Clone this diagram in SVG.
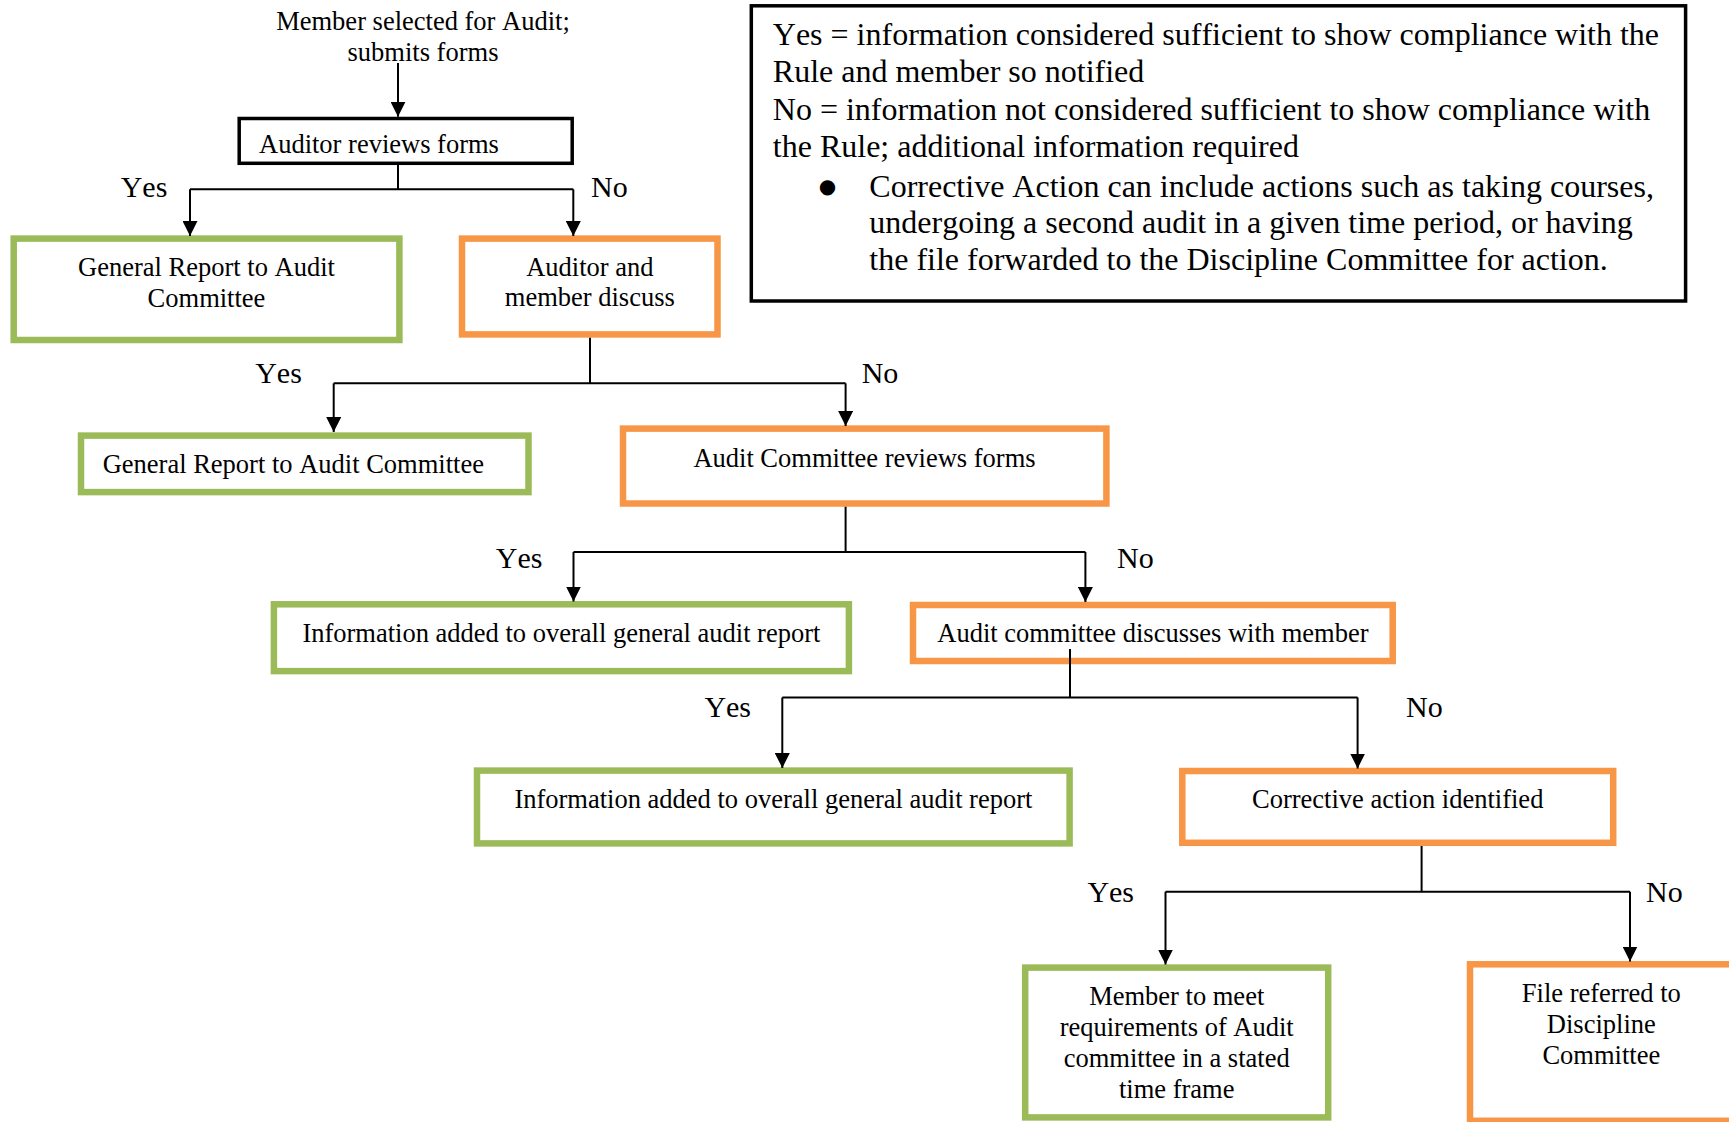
<svg xmlns="http://www.w3.org/2000/svg" width="1729" height="1122" viewBox="0 0 1729 1122">
<style>
text{font-family:"Liberation Serif","Times New Roman",serif;fill:#000;font-kerning:none}
.t{font-size:26.5px}
.c{text-anchor:middle}
.lbl{font-size:30px}
.lg{font-size:32px}
.bul{font-family:"DejaVu Sans",sans-serif;font-size:20px;text-anchor:middle}
.box{fill:#fff;stroke:#000;stroke-width:3.5}
.g{fill:#fff;stroke:#9BBB59;stroke-width:6.5}
.o{fill:#fff;stroke:#F79646;stroke-width:6.5}
.ln{fill:none;stroke:#000;stroke-width:2}
.ar{fill:none;stroke:#000;stroke-width:2;marker-end:url(#ah)}
</style>
<defs>
<marker id="ah" markerUnits="userSpaceOnUse" markerWidth="15" markerHeight="15" refX="15" refY="7.5" orient="auto">
<path d="M0,0 L15,7.5 L0,15 z" fill="#000"/>
</marker>
</defs>
<rect width="1729" height="1122" fill="#fff"/>

<g id="legend">
<rect class="box" x="751.3" y="5.8" width="934.3" height="295.2"/>
<text class="lg" x="772.8" y="45">Yes = information considered sufficient to show compliance with the</text>
<text class="lg" x="772.8" y="81.7">Rule and member so notified</text>
<text class="lg" x="772.8" y="120">No = information not considered sufficient to show compliance with</text>
<text class="lg" x="772.8" y="156.7">the Rule; additional information required</text>
<text class="bul" x="827.5" y="192.5">●</text>
<text class="lg" x="869.3" y="196.7">Corrective Action can include actions such as taking courses,</text>
<text class="lg" x="869.3" y="233.3">undergoing a second audit in a given time period, or having</text>
<text class="lg" x="869.3" y="270">the file forwarded to the Discipline Committee for action.</text>
</g>

<g id="start">
<text class="t c" x="423" y="30">Member selected for Audit;</text>
<text class="t c" x="423" y="61">submits forms</text>
</g>

<g id="auditor-reviews">
<rect class="box" x="239.2" y="118.5" width="333" height="44.8"/>
<text class="t" x="259" y="152.7">Auditor reviews forms</text>
</g>

<g id="general-report-1">
<rect class="g" x="13.7" y="238.6" width="385.7" height="101.4"/>
<text class="t c" x="206.5" y="276">General Report to Audit</text>
<text class="t c" x="206.5" y="307">Committee</text>
</g>

<g id="auditor-member-discuss">
<rect class="o" x="462" y="238.6" width="255.5" height="95.8"/>
<text class="t c" x="589.8" y="276">Auditor and</text>
<text class="t c" x="589.8" y="306">member discuss</text>
</g>

<g id="general-report-2">
<rect class="g" x="81" y="435.6" width="447.5" height="56.5"/>
<text class="t" x="102.7" y="473.3">General Report to Audit Committee</text>
</g>

<g id="committee-reviews">
<rect class="o" x="623" y="428.6" width="483.4" height="74.9"/>
<text class="t c" x="864.5" y="466.7">Audit Committee reviews forms</text>
</g>

<g id="info-added-1">
<rect class="g" x="273.9" y="604.3" width="575" height="66.8"/>
<text class="t c" x="561.4" y="641.7">Information added to overall general audit report</text>
</g>

<g id="committee-discusses">
<rect class="o" x="913" y="605" width="479.7" height="56"/>
<text class="t c" x="1152.9" y="641.7">Audit committee discusses with member</text>
</g>

<g id="info-added-2">
<rect class="g" x="477" y="770.6" width="592.6" height="72.8"/>
<text class="t c" x="773.4" y="808.3">Information added to overall general audit report</text>
</g>

<g id="corrective-action">
<rect class="o" x="1182.3" y="771" width="430.9" height="71.8"/>
<text class="t c" x="1397.7" y="808.3">Corrective action identified</text>
</g>

<g id="member-meet">
<rect class="g" x="1025.2" y="967.6" width="303" height="149.8"/>
<text class="t c" x="1176.7" y="1005">Member to meet</text>
<text class="t c" x="1176.7" y="1036">requirements of Audit</text>
<text class="t c" x="1176.7" y="1066.7">committee in a stated</text>
<text class="t c" x="1176.7" y="1097.7">time frame</text>
</g>

<g id="file-referred">
<rect class="o" x="1470" y="964.3" width="262.7" height="156.5"/>
<text class="t c" x="1601.3" y="1001.7">File referred to</text>
<text class="t c" x="1601.3" y="1032.7">Discipline</text>
<text class="t c" x="1601.3" y="1064">Committee</text>
</g>

<g id="connectors">
<path class="ar" d="M398,63 V116.7"/>
<path class="ln" d="M398,165 V189.3 M190,189.3 H573.3"/>
<path class="ar" d="M190,189.3 V236"/>
<path class="ar" d="M573.3,189.3 V236"/>

<path class="ln" d="M590,337.7 V383.3 M333.7,383.3 H845.6"/>
<path class="ar" d="M333.7,383.3 V432"/>
<path class="ar" d="M845.6,383.3 V426"/>

<path class="ln" d="M845.6,506.7 V552 M573.5,552 H1085.4"/>
<path class="ar" d="M573.5,552 V601.5"/>
<path class="ar" d="M1085.4,552 V602"/>

<path class="ln" d="M1070,649 V697.5 M782.3,697.5 H1357.6"/>
<path class="ar" d="M782.3,697.5 V768"/>
<path class="ar" d="M1357.6,697.5 V768.5"/>

<path class="ln" d="M1421.6,846 V891.7 M1165.5,891.7 H1630"/>
<path class="ar" d="M1165.5,891.7 V964.5"/>
<path class="ar" d="M1630,891.7 V961.5"/>
</g>

<g id="labels">
<text class="lbl" x="120.7" y="196.7">Yes</text>
<text class="lbl" x="591" y="197">No</text>
<text class="lbl" x="255.2" y="383.3">Yes</text>
<text class="lbl" x="861.7" y="383">No</text>
<text class="lbl" x="495.8" y="568.3">Yes</text>
<text class="lbl" x="1117" y="568">No</text>
<text class="lbl" x="704.4" y="716.7">Yes</text>
<text class="lbl" x="1406" y="716.7">No</text>
<text class="lbl" x="1087.4" y="902.3">Yes</text>
<text class="lbl" x="1646" y="902">No</text>
</g>
</svg>
